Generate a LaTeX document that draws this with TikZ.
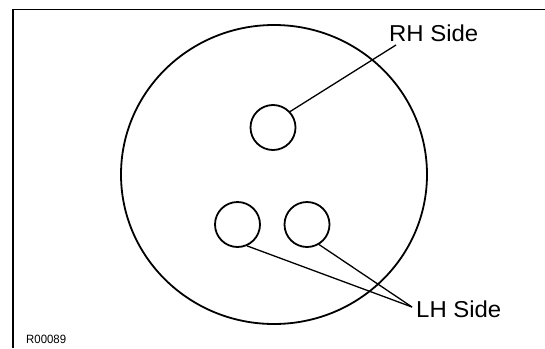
\documentclass[tikz,border=0pt]{standalone}
\usepackage{fontspec}
\setmainfont{Liberation Sans}
\usetikzlibrary{shapes.geometric}
\begin{document}
\begin{tikzpicture}[x=1pt,y=-1pt,
  hole/.style={draw,circle,line width=1.8pt,minimum size=45pt,inner sep=0pt},
  leader/.style={line width=1.3pt},
  lbl/.style={font=\fontsize{23}{26}\selectfont,inner sep=0pt,anchor=base west,xscale=1.04},
  code/.style={font=\fontsize{12}{14}\selectfont,inner sep=0pt,anchor=base west,xscale=0.95}]
\useasboundingbox (0,0) rectangle (545,348);
% frame
\draw[line width=1.8pt] (545,9.5) -- (13,9.5) -- (13,348);
% big disc
\node[draw,ellipse,line width=1.8pt,minimum width=306pt,minimum height=299pt,inner sep=0pt] (disc) at (274,174.5) {};
% holes
\node[hole] (rh) at (273,127.5) {};
\node[hole] (lh1) at (237.5,224.5) {};
\node[hole] (lh2) at (307,224.5) {};
% labels
\node[lbl] (rht) at (389,41) {RH Side};
\node[lbl] (lht) at (416,317) {LH Side};
\node[code] (code) at (26,343) {R00089};
% leaders
\coordinate (rhend) at (396,45);
\coordinate (lhend) at (412,307);
\draw[leader] (rh.43) -- (rhend);
\draw[leader] (lh1.-66) -- (lhend);
\draw[leader] (lh2.-59) -- (lhend);
\end{tikzpicture}
\end{document}
